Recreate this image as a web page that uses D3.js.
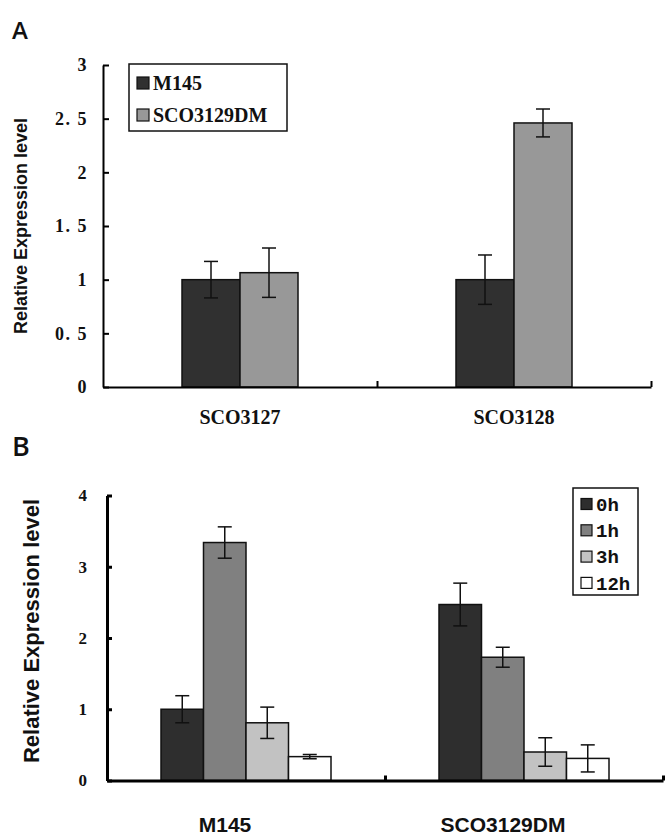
<!DOCTYPE html>
<html>
<head>
<meta charset="utf-8">
<script src="https://cdn.jsdelivr.net/npm/d3@7"></script>
<style>
  html, body { margin: 0; padding: 0; background: #fff; }
  svg { display: block; }
</style>
</head>
<body>
<div id="chart"></div>
<script>
// panel A data
const genesA = ["SCO3127", "SCO3128"];
const strainsA = ["M145", "SCO3129DM"];
const m145A = [1.0, 1.0];
const m145ErrA = [0.17, 0.23];
const dmA = [1.065, 2.46];
const dmErrA = [0.23, 0.13];
const ticksA = [0, 0.5, 1, 1.5, 2, 2.5, 3];
const colorsA = ["#303030", "#989898"];

// panel B data
const strainsB = ["M145", "SCO3129DM"];
const timesB = ["0h", "1h", "3h", "12h"];
const m145B = [1.0, 3.34, 0.81, 0.335];
const m145ErrB = [0.19, 0.22, 0.22, 0.03];
const dmB = [2.47, 1.73, 0.40, 0.31];
const dmErrB = [0.30, 0.14, 0.20, 0.19];
const ticksB = [0, 1, 2, 3, 4];
const colorsB = ["#2e2e2e", "#808080", "#c2c2c2", "#ffffff"];

const W = 666, H = 836;
const svg = d3.select("#chart").append("svg")
    .attr("width", W)
    .attr("height", H);

const serif = "'Liberation Serif', 'Times New Roman', serif";
const sans = "'Liberation Sans', Arial, sans-serif";
const mono = "'Liberation Mono', 'Courier New', monospace";

function drawPanel(opt) {
    const g = svg.append("g");
    const y = d3.scaleLinear().domain(opt.yDomain).range([opt.y0, opt.y1]);
    const x = d3.scaleBand().domain(opt.groups).range([opt.x0, opt.x1]);
    const inner = d3.scaleBand().domain(opt.series)
        .range([x.bandwidth() / 2 - opt.barW * opt.series.length / 2,
                x.bandwidth() / 2 + opt.barW * opt.series.length / 2]);

    // panel letter
    g.append("text")
        .attr("x", 12).attr("y", opt.letterY)
        .attr("font-family", "'Open Sans', sans-serif")
        .attr("font-weight", 600)
        .attr("font-size", opt.letterSize)
        .attr("fill", "#111")
        .text(opt.letter);

    // bars
    const rows = [];
    opt.groups.forEach((grp, gi) => {
        opt.series.forEach((s, si) => {
            rows.push({ grp, s, si, v: opt.values[si][gi], e: opt.errors[si][gi] });
        });
    });
    g.selectAll("rect.bar")
        .data(rows)
        .enter()
        .append("rect")
        .attr("class", "bar")
        .attr("x", d => x(d.grp) + inner(d.s))
        .attr("y", d => y(d.v))
        .attr("width", inner.bandwidth())
        .attr("height", d => y(0) - y(d.v))
        .attr("fill", d => opt.colors[d.si])
        .attr("stroke", "#111")
        .attr("stroke-width", 1.5);

    // error bars
    const eb = g.selectAll("g.err").data(rows).enter().append("g")
        .attr("class", "err")
        .attr("transform", d => `translate(${x(d.grp) + inner(d.s) + inner.bandwidth() / 2},0)`)
        .attr("stroke", "#111")
        .attr("stroke-width", 1.5);
    eb.append("line").attr("y1", d => y(d.v + d.e)).attr("y2", d => y(d.v - d.e));
    eb.append("line").attr("x1", -7).attr("x2", 7)
        .attr("y1", d => y(d.v + d.e)).attr("y2", d => y(d.v + d.e));
    eb.append("line").attr("x1", -7).attr("x2", 7)
        .attr("y1", d => y(d.v - d.e)).attr("y2", d => y(d.v - d.e));

    // y axis, ticks pointing inward
    const yAxis = g.append("g")
        .attr("transform", `translate(${opt.x0},0)`)
        .call(d3.axisLeft(y)
            .tickValues(opt.ticks)
            .tickSizeInner(-opt.tickLen)
            .tickSizeOuter(0)
            .tickPadding(opt.labelPad)
            .tickFormat(opt.tickFormat));
    yAxis.select(".domain").attr("stroke", "#000").attr("stroke-width", opt.axisW);
    yAxis.selectAll(".tick line").attr("stroke", "#000").attr("stroke-width", opt.axisW);
    yAxis.selectAll(".tick text")
        .attr("fill", "#111")
        .attr("font-family", serif)
        .attr("font-weight", "bold")
        .attr("font-size", opt.tickSize)
        .attr("letter-spacing", opt.tickSpacing);

    // x axis: ticks at the band boundaries
    const xb = d3.scaleLinear().domain([0, opt.groups.length]).range([opt.x0, opt.x1]);
    const xAxis = g.append("g")
        .attr("transform", `translate(0,${y(0)})`)
        .call(d3.axisBottom(xb)
            .tickValues(d3.range(1, opt.groups.length + 1))
            .tickSizeInner(-opt.tickLen)
            .tickSizeOuter(0)
            .tickFormat(""));
    xAxis.select(".domain").attr("stroke", "#000").attr("stroke-width", opt.axisW);
    xAxis.selectAll(".tick line").attr("stroke", "#000").attr("stroke-width", opt.axisW);

    // category labels
    g.selectAll("text.cat")
        .data(opt.groups)
        .enter()
        .append("text")
        .attr("class", "cat")
        .attr("x", d => x(d) + x.bandwidth() / 2 + opt.catDx)
        .attr("y", opt.catY)
        .attr("text-anchor", "middle")
        .attr("font-family", opt.catFont)
        .attr("font-weight", "bold")
        .attr("font-size", opt.catSize)
        .attr("fill", "#111")
        .text(d => d);

    // y title
    g.append("text")
        .attr("transform", `translate(${opt.titleX},${(opt.y0 + opt.y1) / 2 + opt.titleDy}) rotate(-90)`)
        .attr("text-anchor", "middle")
        .attr("font-family", sans)
        .attr("font-weight", "bold")
        .attr("font-size", opt.titleSize)
        .attr("fill", "#111")
        .text("Relative Expression level");

    // legend
    const lg = opt.legend;
    g.append("rect")
        .attr("x", lg.x).attr("y", lg.y)
        .attr("width", lg.w).attr("height", lg.h)
        .attr("fill", "#fff")
        .attr("stroke", "#111")
        .attr("stroke-width", 1.5);
    const items = g.selectAll("g.leg").data(opt.series).enter().append("g")
        .attr("class", "leg")
        .attr("transform", (d, i) => `translate(${lg.x + 8},${lg.y + lg.top + i * lg.step})`);
    items.append("rect")
        .attr("y", -lg.sw / 2)
        .attr("width", lg.sw).attr("height", lg.sw)
        .attr("fill", (d, i) => opt.colors[i])
        .attr("stroke", "#111")
        .attr("stroke-width", 1.2);
    items.append("text")
        .attr("x", lg.sw + 4)
        .attr("y", 0)
        .attr("dy", "0.35em")
        .attr("font-family", lg.font)
        .attr("font-weight", lg.weight)
        .attr("font-size", lg.size)
        .attr("fill", "#111")
        .text(d => d);
}

drawPanel({
    letter: "A", letterY: 39, letterSize: 24,
    groups: genesA, series: strainsA,
    values: [m145A, dmA], errors: [m145ErrA, dmErrA],
    colors: colorsA,
    yDomain: [0, 3], y0: 387, y1: 65,
    x0: 103, x1: 651, barW: 58,
    ticks: ticksA, tickFormat: d => String(d).replace(".", ". "),
    tickLen: 6, labelPad: 15, tickSize: 18, tickSpacing: 1.5,
    axisW: 2,
    catY: 424, catDx: 0, catFont: serif, catSize: 20,
    titleX: 27, titleDy: 0, titleSize: 18,
    legend: { x: 129, y: 64, w: 158, h: 67, top: 19, step: 32, sw: 12,
              font: serif, weight: "bold", size: 20 }
});

drawPanel({
    letter: "B", letterY: 456, letterSize: 27,
    groups: strainsB, series: timesB,
    values: d3.range(timesB.length).map(i => [m145B[i], dmB[i]]),
    errors: d3.range(timesB.length).map(i => [m145ErrB[i], dmErrB[i]]),
    colors: colorsB,
    yDomain: [0, 4], y0: 780.5, y1: 495.5,
    x0: 107, x1: 663, barW: 42.5,
    ticks: ticksB, tickFormat: d => d,
    tickLen: 5, labelPad: 20, tickSize: 17, tickSpacing: 0,
    axisW: 3,
    catY: 832, catDx: -21, catFont: sans, catSize: 21,
    titleX: 39, titleDy: -7, titleSize: 22,
    legend: { x: 573, y: 488, w: 65, h: 107, top: 16, step: 26.3, sw: 11,
              font: mono, weight: "bold", size: 19 }
});
</script>
</body>
</html>
